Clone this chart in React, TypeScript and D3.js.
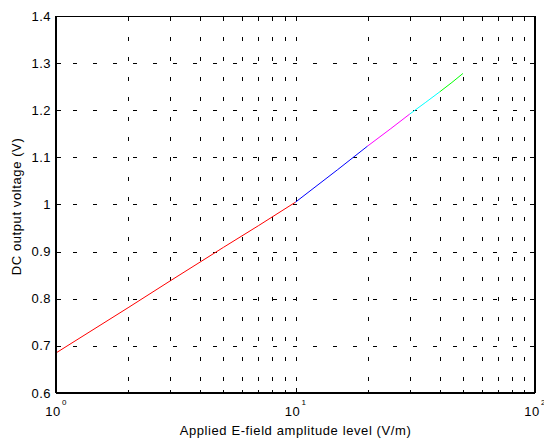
import React from "react";
import * as d3 from "d3";

const redX = [1, 2, 3, 5, 7, 10];
const redY = [0.685, 0.781, 0.838, 0.909, 0.955, 1.005];
const blueX = [10, 15, 20];
const blueY = [1.005, 1.074, 1.124];
const magentaX = [20, 25, 30];
const magentaY = [1.124, 1.161, 1.192];
const cyanX = [30, 35, 40];
const cyanY = [1.192, 1.217, 1.239];
const greenX = [40, 45, 50];
const greenY = [1.239, 1.259, 1.278];
const yTicks = [0.6, 0.7, 0.8, 0.9, 1, 1.1, 1.2, 1.3, 1.4];
const xMajor = [1, 10, 100];
const xExp = ["0", "1", "2"];
const xMinor = [2, 3, 4, 5, 6, 7, 8, 9, 20, 30, 40, 50, 60, 70, 80, 90];

const W = 544, H = 439;
const L = 56, R = 535, T = 16, B = 393;

export default function App() {
  const x = d3.scaleLog().domain([1, 100]).range([L, R]);
  const y = d3.scaleLinear().domain([0.6, 1.4]).range([B, T]);
  const line = d3.line<[number, number]>().x(d => x(d[0])).y(d => y(d[1]));
  const series = [
    { xs: redX, ys: redY, c: "#ff0000" },
    { xs: blueX, ys: blueY, c: "#0000ff" },
    { xs: magentaX, ys: magentaY, c: "#ff00ff" },
    { xs: cyanX, ys: cyanY, c: "#00ffff" },
    { xs: greenX, ys: greenY, c: "#00ff00" },
  ];
  const font = "Liberation Sans, Arial, sans-serif";
  const dash = "4 16";
  const gridColor = "#000";
  const px = (v: number) => Math.round(v) + 0.5;
  return (
    <svg width={W} height={H} style={{ position: "absolute", left: 0, top: 0, background: "#fff" }}>
      <rect x={0} y={0} width={W} height={H} fill="#fff" />
      {/* grid */}
      <g shapeRendering="crispEdges">
        {yTicks.slice(1, -1).map(v => (
          <line key={"gy" + v} x1={L} x2={R} y1={px(y(v))} y2={px(y(v))} stroke={gridColor} strokeWidth={1} strokeDasharray={dash} strokeDashoffset={-17} />
        ))}
        {[...xMinor, 10].map(v => (
          <line key={"gx" + v} x1={px(x(v))} x2={px(x(v))} y1={B} y2={T} stroke={gridColor} strokeWidth={1} strokeDasharray={dash} strokeDashoffset={-12} />
        ))}
      </g>
      {/* data */}
      {series.map((s, i) => (
        <path key={i} d={line(s.xs.map((v, j) => [v, s.ys[j]] as [number, number])) || ""} fill="none" stroke={s.c} strokeWidth={1} />
      ))}
      {/* ticks */}
      <g shapeRendering="crispEdges">
        {yTicks.map(v => (
          <g key={"ty" + v}>
            <line x1={L} x2={L + 5} y1={px(y(v))} y2={px(y(v))} stroke="#000" />
            <line x1={R} x2={R - 5} y1={px(y(v))} y2={px(y(v))} stroke="#000" />
          </g>
        ))}
        {xMinor.map(v => (
          <g key={"tm" + v}>
            <line x1={px(x(v))} x2={px(x(v))} y1={B} y2={B - 3} stroke="#000" />
            <line x1={px(x(v))} x2={px(x(v))} y1={T} y2={T + 3} stroke="#000" />
          </g>
        ))}
        {xMajor.map(v => (
          <g key={"tM" + v}>
            <line x1={px(x(v))} x2={px(x(v))} y1={B} y2={B - 5} stroke="#000" />
            <line x1={px(x(v))} x2={px(x(v))} y1={T} y2={T + 5} stroke="#000" />
          </g>
        ))}
      </g>
      {yTicks.map(v => (
        <text key={"yl" + v} x={L - 5} y={y(v)} dy="0.35em" textAnchor="end" fontSize={13} letterSpacing={0.5} fontFamily={font} fill="#000">
          {String(v === 1 ? "1" : v.toFixed(1))}
        </text>
      ))}
      {xMajor.map((v, i) => (
        <g key={"xl" + v}>
          <text x={x(v) - 3} y={B + 23} textAnchor="middle" fontSize={13} letterSpacing={0.5} fontFamily={font} fill="#000">10</text>
          <text x={x(v) + 6} y={B + 12} textAnchor="start" fontSize={8} fontFamily={font} fill="#000">{xExp[i]}</text>
        </g>
      ))}
      {/* box */}
      <g shapeRendering="crispEdges">
        <line x1={L} x2={R} y1={T} y2={T} stroke="#000" strokeWidth={1} />
        <line x1={L} x2={R} y1={B} y2={B} stroke="#000" strokeWidth={2} />
        <line x1={L} x2={L} y1={T} y2={B} stroke="#000" strokeWidth={2} />
        <line x1={R} x2={R} y1={T} y2={B} stroke="#000" strokeWidth={2} />
      </g>
      {/* labels */}
      <text x={(L + R) / 2} y={435} textAnchor="middle" fontSize={13} letterSpacing={0.6} fontFamily={font} fill="#000">
        Applied E-field amplitude level (V/m)
      </text>
      <text transform={`translate(21,${(T + B) / 2 + 2}) rotate(-90)`} textAnchor="middle" fontSize={13} letterSpacing={0.6} fontFamily={font} fill="#000">
        DC output voltage (V)
      </text>
    </svg>
  );
}
